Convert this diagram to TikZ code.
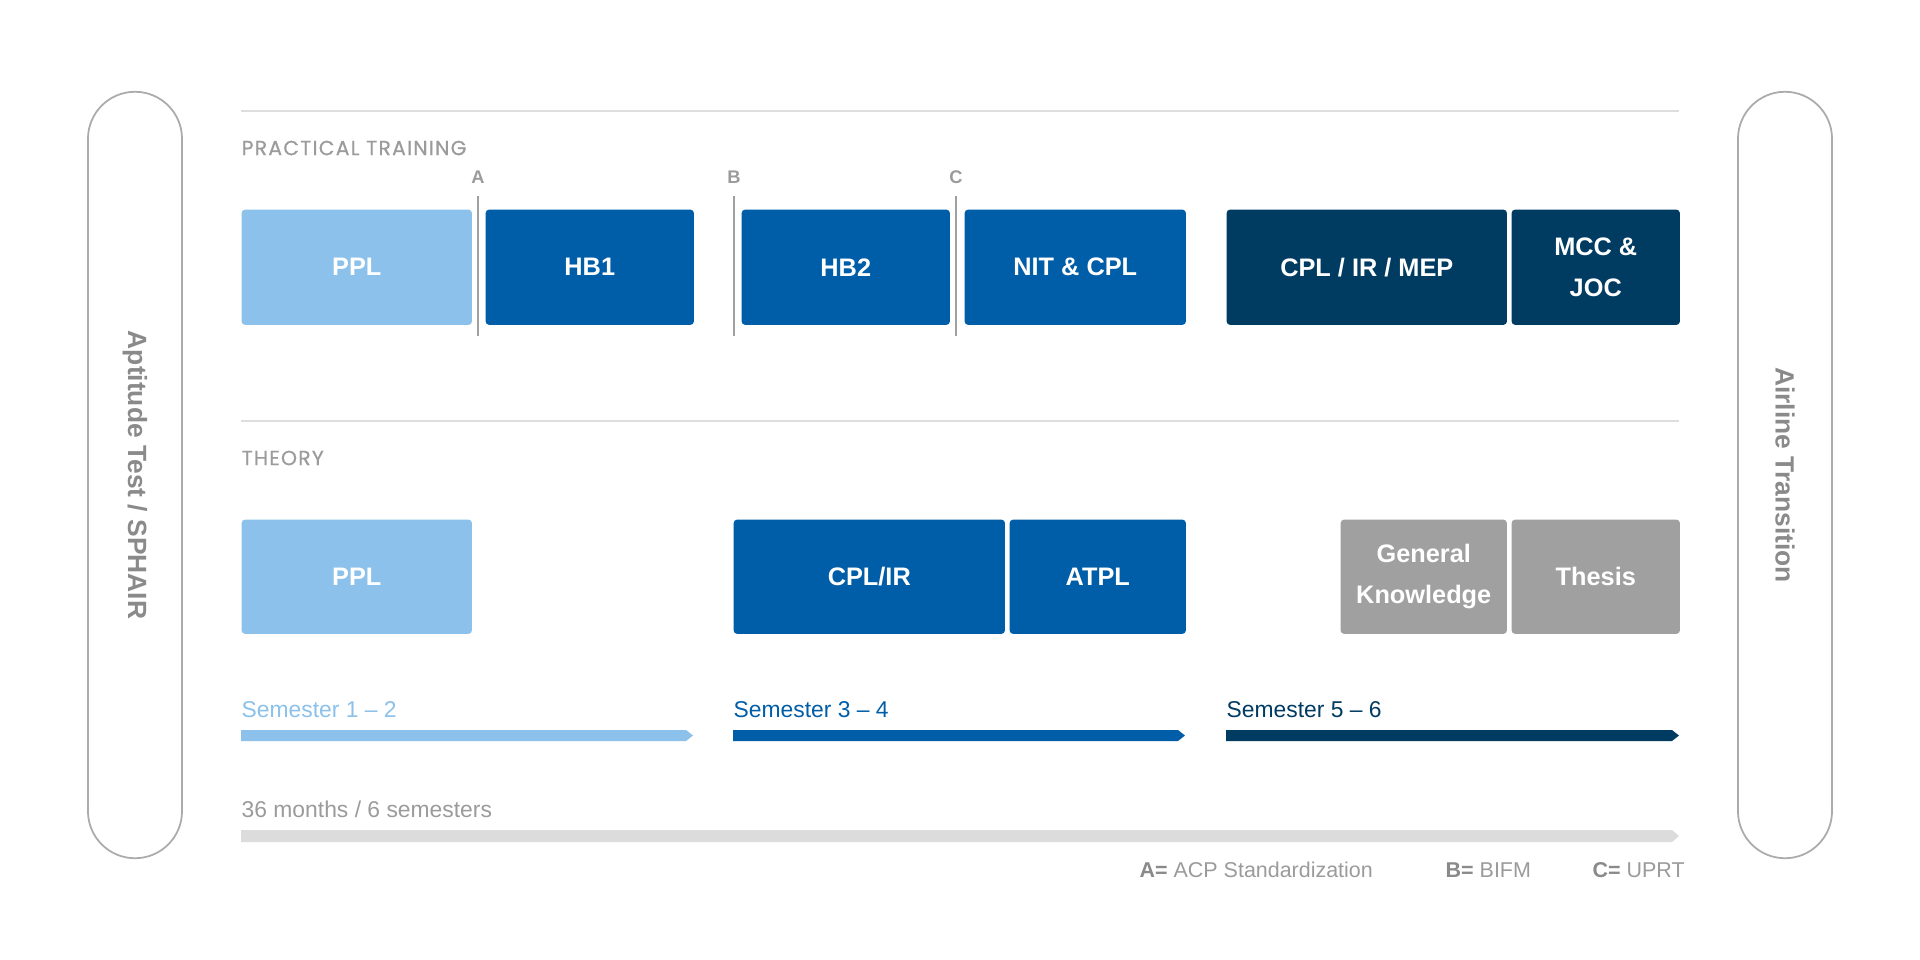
\documentclass[tikz,border=0pt]{standalone}
\usepackage{fontspec}
\setmainfont{Liberation Sans}
\newfontfamily\sectionfont[LetterSpace=6,FakeBold=0.5]{Poppins}
\usetikzlibrary{positioning}

\definecolor{skyblue}{HTML}{8BC1EA}
\definecolor{midblue}{HTML}{005EA8}
\definecolor{navyblue}{HTML}{003B62}
\definecolor{boxgray}{HTML}{A0A0A0}
\definecolor{textgray}{HTML}{9B9B9B}
\definecolor{darkgray}{HTML}{8A8A8A}
\definecolor{rulegray}{HTML}{DEDEDE}
\definecolor{bargray}{HTML}{DCDCDC}
\definecolor{pillgray}{HTML}{ABABAB}

\tikzset{
  course/.style={rounded corners=0.9pt, text=white, inner sep=0pt, anchor=north west,
    font=\fontsize{7.2}{11.6}\selectfont\bfseries, align=center},
  section/.style={anchor=west, inner sep=0pt, text=textgray, font=\sectionfont\fontsize{5.8}{6}\selectfont},
  tag/.style={inner sep=0pt, text=textgray, font=\fontsize{5.2}{6}\selectfont\bfseries},
  marker/.style={draw=boxgray, line width=0.6pt},
  semlabel/.style={anchor=west, inner sep=0pt, font=\fontsize{6.5}{7}\selectfont},
  legend/.style={anchor=west, inner sep=0pt, text=textgray, font=\fontsize{6.1}{7}\selectfont},
  pill/.style={draw=pillgray, line width=0.5pt, rounded corners=0.47cm, rotate=-90,
    minimum width=7.66cm, minimum height=0.94cm, inner sep=0pt, text=darkgray,
    font=\fontsize{7.5}{8}\selectfont\bfseries},
}

\begin{document}
\begin{tikzpicture}[x=0.01cm, y=-0.01cm, line join=round]
\useasboundingbox[fill=white] (0,0) rectangle (1920,960);

% side pills
\node[pill] (aptitude) at (135,475) {Aptitude Test / SPHAIR};
\node[pill] (airline) at (1785,475) {Airline Transition};

% section rules and headings
\draw[rulegray, line width=0.45pt] (241,111) -- (1679,111);
\draw[rulegray, line width=0.45pt] (241,421) -- (1679,421);
\node[section] (practical) at (241,148) {PRACTICAL TRAINING};
\node[section] (theory) at (241,458) {THEORY};

% milestones A, B, C
\node[tag] (tagA) at (478,177) {A};
\node[tag] (tagB) at (734,177) {B};
\node[tag] (tagC) at (956,177) {C};
\draw[marker] (478,196) -- (478,336);
\draw[marker] (734,196) -- (734,336);
\draw[marker] (956,196) -- (956,336);

% practical training
\node[course, fill=skyblue, minimum width=2.30cm, minimum height=1.15cm] (pplP) at (241,209) {PPL};
\node[course, fill=midblue, minimum width=2.08cm, minimum height=1.15cm] (hbone) at (485,209) {HB1};
\node[course, fill=midblue, minimum width=2.08cm, minimum height=1.15cm] (hbtwo) at (741,209) {HB2};
\node[course, fill=midblue, minimum width=2.21cm, minimum height=1.15cm] (nit) at (964,209) {NIT \& CPL};
\node[course, fill=navyblue, minimum width=2.80cm, minimum height=1.15cm] (mep) at (1226,209) {CPL / IR / MEP};
\node[course, fill=navyblue, minimum width=1.68cm, minimum height=1.15cm] (mcc) at (1511,209) {MCC \&\\JOC};

% theory
\node[course, fill=skyblue, minimum width=2.30cm, minimum height=1.14cm] (pplT) at (241,519) {PPL};
\node[course, fill=midblue, minimum width=2.71cm, minimum height=1.14cm] (cplir) at (733,519) {CPL/IR};
\node[course, fill=midblue, minimum width=1.76cm, minimum height=1.14cm] (atpl) at (1009,519) {ATPL};
\node[course, fill=boxgray, minimum width=1.66cm, minimum height=1.14cm] (general) at (1340,519) {General\\Knowledge};
\node[course, fill=boxgray, minimum width=1.68cm, minimum height=1.14cm] (thesis) at (1511,519) {Thesis};

% semesters
\node[semlabel, text=skyblue] (semA) at (241,710) {Semester 1 -- 2};
\node[semlabel, text=midblue] (semB) at (733,710) {Semester 3 -- 4};
\node[semlabel, text=navyblue] (semC) at (1226,710) {Semester 5 -- 6};
\fill[skyblue] (241,730) -- (686,730) -- (693,735.5) -- (686,741) -- (241,741) -- cycle;
\fill[midblue] (733,730) -- (1178,730) -- (1185,735.5) -- (1178,741) -- (733,741) -- cycle;
\fill[navyblue] (1226,730) -- (1672,730) -- (1679,735.5) -- (1672,741) -- (1226,741) -- cycle;

% total duration
\node[semlabel, text=textgray] (total) at (241,809) {36 months / 6 semesters};
\fill[bargray] (241,830) -- (1672,830) -- (1679,836) -- (1672,842) -- (241,842) -- cycle;

% legend
\node[legend] (legA) at (1139,870) {\textcolor{darkgray}{\bfseries A=} ACP Standardization};
\node[legend] (legB) at (1445,870) {\textcolor{darkgray}{\bfseries B=} BIFM};
\node[legend] (legC) at (1592,870) {\textcolor{darkgray}{\bfseries C=} UPRT};
\end{tikzpicture}
\end{document}
